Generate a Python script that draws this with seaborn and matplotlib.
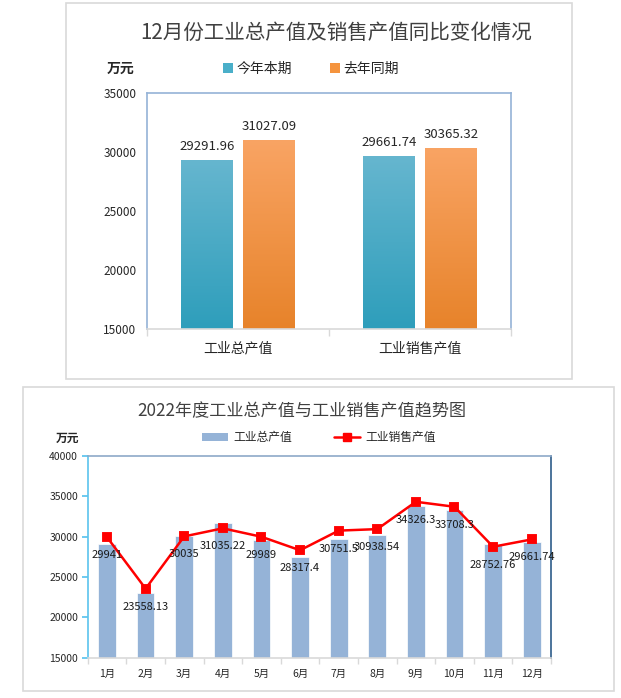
import numpy as np
import pandas as pd
import matplotlib
matplotlib.use("Agg")
import matplotlib.pyplot as plt
from matplotlib.patches import Rectangle, Patch
from matplotlib.lines import Line2D
from matplotlib.colors import LinearSegmentedColormap
import seaborn as sns

# ---------------- data ----------------
top_categories = ["工业总产值", "工业销售产值"]
this_year = [29291.96, 29661.74]
last_year = [31027.09, 30365.32]
top_series = ["今年本期", "去年同期"]

months = ["1月", "2月", "3月", "4月", "5月", "6月", "7月", "8月", "9月", "10月", "11月", "12月"]
gross_output = [29050, 22975, 30120, 31735, 29545, 27480, 29750, 30205, 33800, 33305, 29130, 29291.96]
sales_output = [29941, 23558.13, 30035, 31035.22, 29989, 28317.4, 30751.5, 30938.54, 34326.3, 33708.3, 28752.76, 29661.74]
sales_labels = ["29941", "23558.13", "30035", "31035.22", "29989", "28317.4", "30751.5", "30938.54",
                "34326.3", "33708.3", "28752.76", "29661.74"]

# ---------------- style ----------------
sns.set_theme(style="white")
plt.rcParams["font.family"] = ["Noto Sans CJK SC", "DejaVu Sans"]
plt.rcParams["axes.unicode_minus"] = False

W, H = 621, 698
fig = plt.figure(figsize=(W / 100, H / 100), dpi=100)


def fx(px):
    return px / W


def fy(py):
    return 1 - py / H


# panel borders
fig.patches.append(Rectangle((fx(66), fy(379)), fx(571.5 - 66), (379 - 3.3) / H,
                             transform=fig.transFigure, fill=False, edgecolor="#D9D9D9", lw=1.2))
fig.patches.append(Rectangle((fx(23), fy(691)), fx(614 - 23), (691 - 387) / H,
                             transform=fig.transFigure, fill=False, edgecolor="#D9D9D9", lw=1.2))

# ---------------- top chart ----------------
ax1 = fig.add_axes([fx(147.3), fy(329.3), fx(510.7 - 147.3), (329.3 - 92.7) / H])
df_top = pd.DataFrame({
    "cat": top_categories * 2,
    "val": this_year + last_year,
    "series": [top_series[0]] * 2 + [top_series[1]] * 2,
})
teal = "#4AAFC9"
orange = "#F5943E"
sns.barplot(data=df_top, x="cat", y="val", hue="series", palette=[teal, orange],
            width=0.68, gap=0.16, ax=ax1, legend=False, edgecolor="white", linewidth=0.6)
ax1.set_ylim(15000, 35000)
ax1.set_xlim(-0.5, 1.5)
ax1.set_yticks([15000, 20000, 25000, 30000, 35000])
ax1.set_xlabel("")
ax1.set_ylabel("")

grads = [("#66B6CF", "#2E9EBB"), ("#F9A464", "#E7832A")]
for cont, (ctop, cbot) in zip(ax1.containers, grads):
    cmap = LinearSegmentedColormap.from_list("g", [cbot, ctop])
    for bar in cont:
        x0 = bar.get_x()
        w = bar.get_width()
        top = bar.get_y() + bar.get_height()
        grad = np.linspace(1, 0, 256).reshape(-1, 1)
        im = ax1.imshow(grad, extent=[x0, x0 + w, 15000, top], aspect="auto",
                        cmap=cmap, vmin=0, vmax=1, zorder=bar.get_zorder(), origin="upper")
        im.set_clip_path(bar)
        bar.set_facecolor("none")
    ax1.bar_label(cont, fmt="%.2f", padding=5, fontsize=9.5, color="#262626")
ax1.set_xlim(-0.5, 1.5)
ax1.set_ylim(15000, 35000)

for s in ["left", "top", "right"]:
    ax1.spines[s].set_color("#95B3D7")
    ax1.spines[s].set_linewidth(1.2)
ax1.spines["bottom"].set_color("#D9D9D9")
ax1.spines["bottom"].set_linewidth(1.2)
ax1.tick_params(axis="y", length=0, labelsize=8.5, labelcolor="#262626", pad=8)
ax1.tick_params(axis="x", which="major", length=0, labelsize=10, labelcolor="#262626", pad=9)
ax1.set_xticks([-0.5, 0.5, 1.5], minor=True)
ax1.tick_params(axis="x", which="minor", length=5, color="#D9D9D9", width=1, direction="out")
ax1.xaxis.set_tick_params(bottom=True, which="minor")

fig.text(fx(336), fy(33), "12月份工业总产值及销售产值同比变化情况", ha="center", va="center",
         fontsize=14.8, color="#404040")
fig.text(fx(121), fy(69), "万元", ha="center", va="center", fontsize=10, fontweight="bold", color="#262626")
h_top = [Patch(facecolor=teal, edgecolor="none"), Patch(facecolor=orange, edgecolor="none")]
fig.legend(h_top, top_series, loc="center", bbox_to_anchor=(fx(311), fy(69)), ncol=2, frameon=False,
           fontsize=10, handlelength=0.7, handleheight=0.7, handletextpad=0.25, columnspacing=2.8,
           labelcolor="#262626")

# ---------------- bottom chart ----------------
ax2 = fig.add_axes([fx(87.7), fy(657.7), fx(551 - 87.7), (657.7 - 456) / H])
sns.barplot(x=months, y=gross_output, color="#95B3D7", saturation=1, width=0.46, ax=ax2,
            edgecolor="white", linewidth=0.5, zorder=2)
sns.pointplot(x=months, y=sales_output, color="#FF0000", marker="s", markersize=5.5,
              linewidth=1.8, ax=ax2, zorder=4)
for i, (v, lab) in enumerate(zip(sales_output, sales_labels)):
    ax2.annotate(lab, xy=(i, v), xytext=(0, -13), textcoords="offset points",
                 ha="center", va="center", fontsize=8, color="#1a1a1a", zorder=5)
ax2.set_ylim(15000, 40000)
ax2.set_xlim(-0.5, 11.5)
ax2.set_yticks([15000, 20000, 25000, 30000, 35000, 40000])
ax2.set_xlabel("")
ax2.set_ylabel("")
ax2.spines["left"].set_color("#5BC4EE")
ax2.spines["top"].set_color("#8EA9C8")
ax2.spines["right"].set_color("#2E5C8A")
ax2.spines["bottom"].set_color("#D9D9D9")
for s in ax2.spines.values():
    s.set_linewidth(1.2)
ax2.tick_params(axis="y", length=4, color="#5BC4EE", labelsize=7.5, labelcolor="#262626", pad=3,
                direction="out", left=True)
ax2.tick_params(axis="x", which="major", length=0, labelsize=7.5, labelcolor="#262626", pad=8)
ax2.set_xticks(np.arange(-0.5, 12, 1), minor=True)
ax2.tick_params(axis="x", which="minor", length=4, color="#D9D9D9", width=1, direction="out", bottom=True)

fig.text(fx(301.5), fy(411.5), "2022年度工业总产值与工业销售产值趋势图", ha="center", va="center",
         fontsize=12.3, color="#404040")
fig.text(fx(68), fy(438), "万元", ha="center", va="center", fontsize=8.5, fontweight="bold", color="#262626")
h_bot = [Patch(facecolor="#95B3D7", edgecolor="none"),
         Line2D([0], [0], color="#FF0000", lw=1.8, marker="s", markersize=5.5)]
fig.legend(h_bot, ["工业总产值", "工业销售产值"], loc="center", bbox_to_anchor=(fx(319), fy(437.5)),
           ncol=2, frameon=False, fontsize=8.5, handlelength=2.2, handleheight=0.7,
           handletextpad=0.5, columnspacing=3.5, labelcolor="#262626")

fig.savefig("out.png", dpi=100)
